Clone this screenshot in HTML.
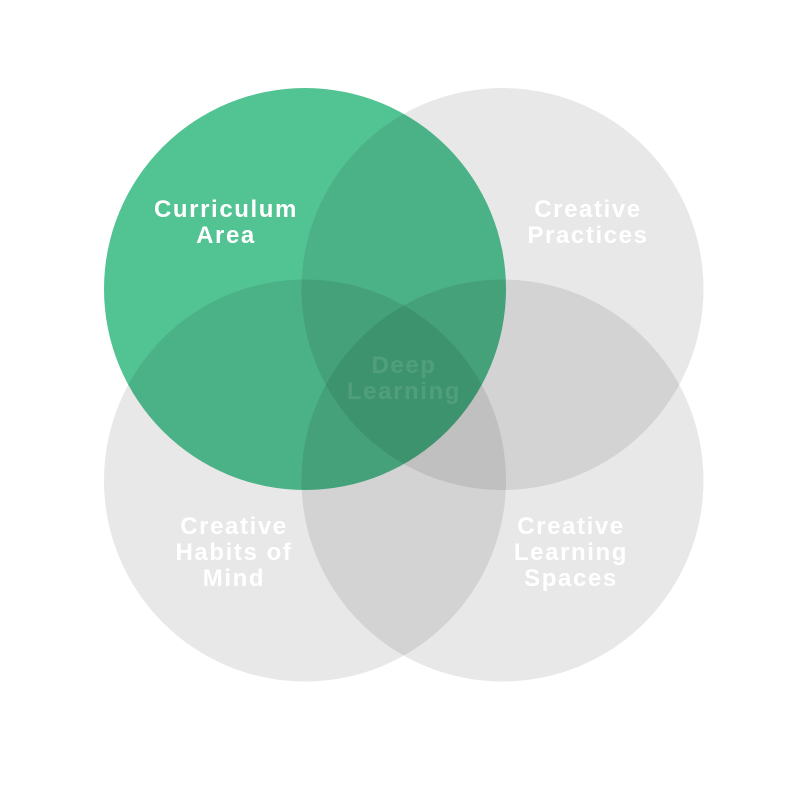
<!DOCTYPE html>
<html><head><meta charset="utf-8"><style>
html,body{margin:0;padding:0;background:#fff;}
svg{display:block;}
text{font-family:"Liberation Sans",sans-serif;font-weight:bold;font-size:24px;text-anchor:middle;fill:#fff;letter-spacing:1.6px;}
</style></head><body>
<svg width="800" height="800" viewBox="0 0 800 800">
<g style="isolation:isolate">
<circle cx="502.5" cy="289" r="201" fill="#e8e8e8" style="mix-blend-mode:multiply"/>
<circle cx="305" cy="480.5" r="201" fill="#e8e8e8" style="mix-blend-mode:multiply"/>
<circle cx="502.5" cy="480.5" r="201" fill="#e8e8e8" style="mix-blend-mode:multiply"/>
<circle cx="305" cy="289" r="201" fill="#52c393" style="mix-blend-mode:multiply"/>
</g>
<text x="226" y="217">Curriculum</text>
<text x="226" y="243">Area</text>
<text x="588" y="217">Creative</text>
<text x="588" y="243">Practices</text>
<text x="234" y="534">Creative</text>
<text x="234" y="560">Habits of</text>
<text x="234" y="586">Mind</text>
<text x="571" y="534">Creative</text>
<text x="571" y="560">Learning</text>
<text x="571" y="586">Spaces</text>
<text x="404" y="373" style="fill:#ffffff;fill-opacity:0.1">Deep</text>
<text x="404" y="399" style="fill:#ffffff;fill-opacity:0.1">Learning</text>
</svg>
</body></html>
